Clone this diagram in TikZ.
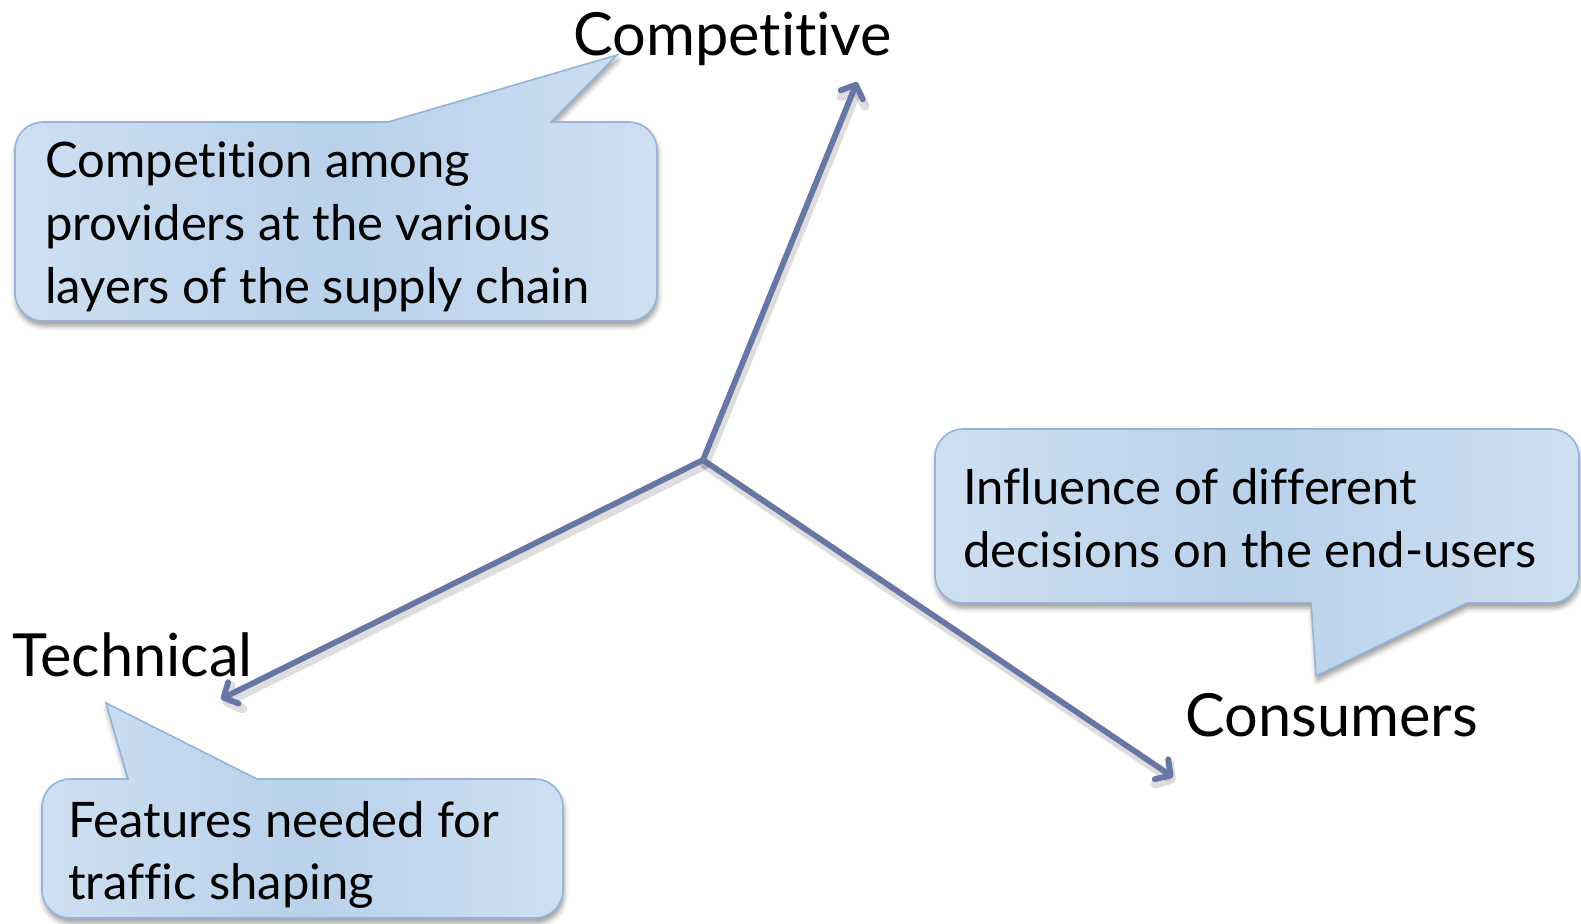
\documentclass[tikz,border=0pt]{standalone}
\usepackage{fontspec}
\setmainfont{Lato}[Ligatures=NoCommon]
\usetikzlibrary{arrows.meta,shadows.blur}
\definecolor{arrowc}{RGB}{104,118,166}
\definecolor{boxedge}{RGB}{150,180,215}
\definecolor{boxlight}{RGB}{206,223,241}
\definecolor{boxmid}{RGB}{185,209,234}
\begin{document}
\begin{tikzpicture}[x=1pt,y=-1pt,
  callout/.style={draw=boxedge, line width=1.6pt, left color=boxlight, right color=boxlight, middle color=boxmid,
    blur shadow={shadow xshift=1pt, shadow yshift=-5pt, shadow blur radius=5pt, shadow opacity=40}},
  boxtext/.style={anchor=base west, inner sep=0pt, font=\fontsize{49}{49}\selectfont},
  label/.style={anchor=base west, inner sep=0pt, font=\fontsize{59.5}{59.5}\selectfont},
  arr/.style={draw=arrowc, line width=5.8pt, line cap=round, line join=round,
    -{Straight Barb[length=11pt,width=24pt,line cap=round,line join=round]}},
  arrshadow/.style={draw=black!60, opacity=0.22, line width=9pt, line cap=round, line join=round,
    -{Straight Barb[length=11pt,width=26pt,line cap=round,line join=round]}, transform canvas={shift={(2pt,-5pt)}}}
]
\useasboundingbox (0,0) rectangle (1581,923);

% callout 1 (top left)
\draw[callout] (15,220) [rounded corners=28] -- (15,122) [sharp corners] -- (388,122) -- (617,55) -- (551,122) [rounded corners=28] -- (657,122) -- (657,321) -- (15,321) -- cycle;
% callout 2 (bottom left)
\draw[callout] (42,850) [rounded corners=28] -- (42,779) [sharp corners] -- (128,779) -- (106,703) -- (257,779) [rounded corners=28] -- (563,779) -- (563,918) -- (42,918) -- cycle;
% callout 3 (right)
\draw[callout] (935,520) [rounded corners=28] -- (935,429) -- (1579,429) -- (1579,603) [sharp corners] -- (1467,603) -- (1316,676) -- (1311,603) [rounded corners=28] -- (935,603) -- cycle;

% texts in callouts
\node[boxtext] (t1a) at (45,177) {Competition among};
\node[boxtext] (t1b) at (45,240) {providers at the various};
\node[boxtext] (t1c) at (45,303) {layers of the supply chain};
\node[boxtext] (t2a) at (68,837) {Features needed for};
\node[boxtext] (t2b) at (68,899) {traffic shaping};
\node[boxtext] (t3a) at (963,504) {Influence of different};
\node[boxtext] (t3b) at (963,567) {decisions on the end-users};

% labels
\node[label] (comp) at (573,56) {Competitive};
\node[label] (tech) at (12,676) {Technical};
\node[label] (cons) at (1185,736) {Consumers};

% arrows
\coordinate (o) at (703,460);
\coordinate (tipc) at (857,82);
\coordinate (tipt) at (221,699);
\coordinate (tipu) at (1173,777);
\draw[arrshadow] (o) -- (tipc);
\draw[arrshadow] (o) -- (tipt);
\draw[arrshadow] (o) -- (tipu);
\draw[arr] (o) -- (tipc);
\draw[arr] (o) -- (tipt);
\draw[arr] (o) -- (tipu);
\end{tikzpicture}
\end{document}
